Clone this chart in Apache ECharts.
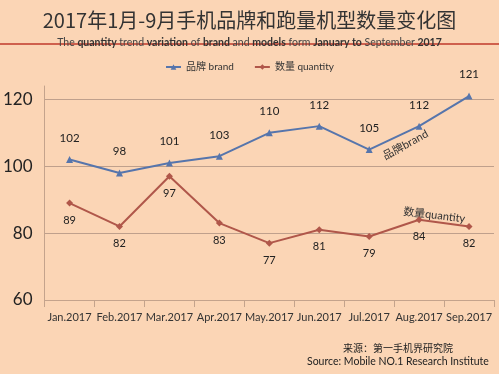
<!DOCTYPE html>
<html><head><meta charset="utf-8">
<script src="https://cdn.jsdelivr.net/npm/echarts@6/dist/echarts.min.js"></script>
<style>html,body{margin:0;padding:0;background:#FBD5B5;}#c{width:499px;height:374px;}</style>
</head><body><div id="c"></div>
<script>
const categories = ['Jan.2017','Feb.2017','Mar.2017','Apr.2017','May.2017','Jun.2017','Jul.2017','Aug.2017','Sep.2017'];
const brandValues = [102, 98, 101, 103, 110, 112, 105, 112, 121];
const quantityValues = [89, 82, 97, 83, 77, 81, 79, 84, 82];
const yTicks = [60, 80, 100, 120];
const titleText = '2017年1月-9月手机品牌和跑量机型数量变化图';
const subtitleRich = '{n|The }{b|quantity}{n| trend }{b|variation}{n| of }{b|brand}{n| and }{b|models}{n| form }{b|January to}{n| September }{b|2017}';
const brandName = '品牌 brand';
const quantityName = '数量 quantity';

const latin = 'Lato, "Noto Sans CJK SC", sans-serif';
const chart = echarts.init(document.getElementById('c'), null, {renderer: 'canvas'});
chart.setOption({
  backgroundColor: '#FBD5B5',
  animation: false,
  title: [{
    text: titleText, left: 'center', top: 5,
    textStyle: {fontFamily: '"Noto Sans CJK SC", sans-serif', fontSize: 20, fontWeight: 'normal', color: '#333'}
  },{
    text: subtitleRich, left: 'center', top: 32,
    textStyle: {rich: {
      n: {fontFamily: latin, fontSize: 10.5, fontWeight: 'normal', color: '#444'},
      b: {fontFamily: latin, fontSize: 10.5, fontWeight: 'bold', color: '#333'}
    }}
  },{
    text: '来源：第一手机界研究院', left: 338, top: 338,
    textStyle: {fontFamily: '"Noto Sans CJK SC", sans-serif', fontSize: 10, fontWeight: 'normal', color: '#222'}
  },{
    text: 'Source: Mobile NO.1 Research Institute', left: 302, top: 351,
    textStyle: {fontFamily: latin, fontSize: 10.5, fontWeight: 'normal', color: '#222'}
  }],
  graphic: [
    {type: 'line', shape: {x1: 0, y1: 44, x2: 499, y2: 44}, style: {stroke: '#C0392B', lineWidth: 1.5}},
    {type: 'text', x: 381, y: 152, rotation: 0.5, style: {text: '品牌brand', font: '11px Lato, "Noto Sans CJK SC"', fill: '#333'}},
    {type: 'text', x: 404, y: 206, rotation: -0.12, style: {text: '数量quantity', font: '11px Lato, "Noto Sans CJK SC"', fill: '#333'}}
  ],
  legend: {
    top: 57, left: 'center', itemGap: 20, itemWidth: 15, itemHeight: 7,
    textStyle: {fontFamily: latin, fontSize: 10, color: '#333'},
    data: [brandName, quantityName]
  },
  grid: {left: 40, right: 5, top: 86, bottom: 74},
  xAxis: {
    type: 'category', data: categories, boundaryGap: true,
    axisLine: {lineStyle: {color: '#C4A38C', width: 1}},
    axisTick: {show: true, length: 7, lineStyle: {color: '#C4A38C'}},
    axisLabel: {fontFamily: latin, fontSize: 11, color: '#333', margin: 12, interval: 0}
  },
  yAxis: {
    type: 'value', min: 60, max: 124, interval: 20,
    axisLine: {show: true, lineStyle: {color: '#C4A38C'}},
    axisTick: {show: false},
    axisLabel: {fontFamily: latin, fontSize: 17, color: '#222', margin: 12, showMaxLabel: false,
      formatter: v => yTicks.includes(v) ? String(v) : ''},
    splitLine: {show: true, showMaxLine: false, lineStyle: {color: '#BFA08C', width: 1}}
  },
  series: [{
    name: brandName, type: 'line', data: brandValues,
    symbol: 'triangle', symbolSize: 7,
    lineStyle: {color: '#5675AC', width: 2},
    itemStyle: {color: '#5675AC'},
    label: {show: true, position: 'top', distance: 12, fontFamily: latin, fontSize: 11.5, color: '#222'}
  },{
    name: quantityName, type: 'line', data: quantityValues,
    symbol: 'diamond', symbolSize: 7,
    lineStyle: {color: '#B0574A', width: 2},
    itemStyle: {color: '#B0574A'},
    label: {show: true, position: 'bottom', distance: 8, fontFamily: latin, fontSize: 11, color: '#222'}
  }]
});
</script></body></html>
